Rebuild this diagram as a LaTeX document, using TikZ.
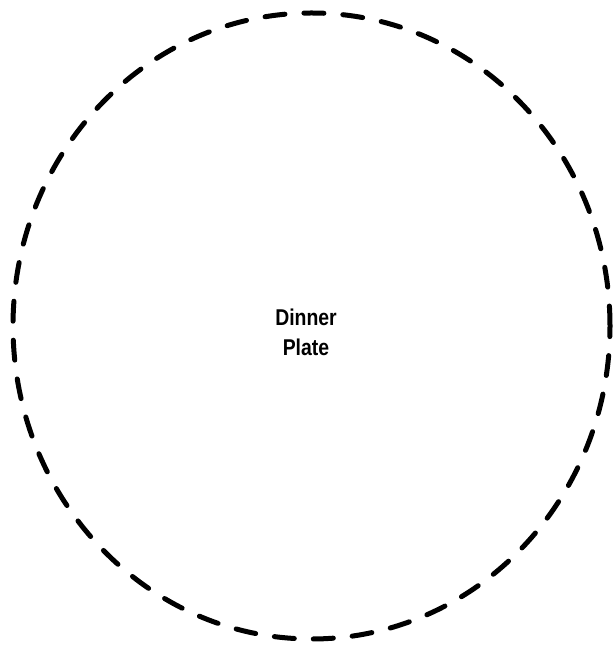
\documentclass[tikz,border=0pt]{standalone}
\usepackage{fontspec}
\setmainfont{Liberation Sans}
\usepackage{tikz}
\usetikzlibrary{positioning}
\tikzset{
  platerim/.style={line width=1mm,dash pattern=on 4mm off 3.8mm,line cap=round},
  platelabel/.style={align=center,font=\bfseries\fontsize{13}{17}\selectfont,inner sep=0pt}
}
\begin{document}
\begin{tikzpicture}
  % Frame (613 x 648 px at 0.02 cm/px)
  \useasboundingbox (0,0) rectangle (12.26,12.96);
  % Rim of the plate
  \coordinate (rimcentre) at (6.23,6.44);
  \draw[platerim] (rimcentre) ellipse [x radius=5.97,y radius=6.26];
  % Label
  \node[platelabel,xscale=0.85] (plate) at (6.12,6.32) {Dinner\\Plate};
\end{tikzpicture}
\end{document}
